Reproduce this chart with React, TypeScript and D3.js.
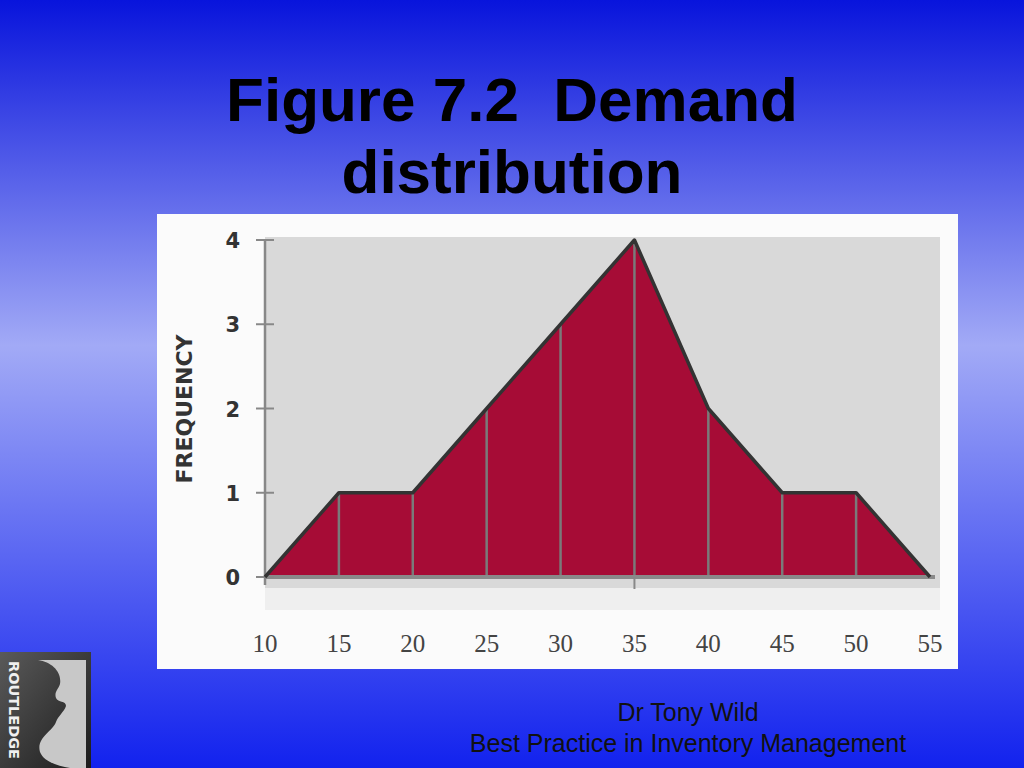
import React, { useRef, useEffect } from "react";
import { select, scaleLinear, area, line, curveLinear } from "d3";

const demandLevels = [10, 15, 20, 25, 30, 35, 40, 45, 50, 55];
const frequencies = [0, 1, 1, 2, 3, 4, 2, 1, 1, 0];
const yTicks = [0, 1, 2, 3, 4];

const W = 1024;
const H = 768;

const App: React.FC = () => {
  const svgRef = useRef<SVGSVGElement>(null);

  useEffect(() => {
    const svg = select(svgRef.current);
    svg.selectAll("*").remove();

    const x = scaleLinear().domain([10, 55]).range([265, 930]);
    const y = scaleLinear().domain([0, 4]).range([577, 240]);

    const defs = svg.append("defs");
    const bg = defs
      .append("linearGradient")
      .attr("id", "bg")
      .attr("x1", 0)
      .attr("y1", 0)
      .attr("x2", 0)
      .attr("y2", 1);
    bg.append("stop").attr("offset", "0%").attr("stop-color", "#0814dc");
    bg.append("stop").attr("offset", "45%").attr("stop-color", "#a2aaf6");
    bg.append("stop").attr("offset", "100%").attr("stop-color", "#1222ee");

    const logo = defs
      .append("linearGradient")
      .attr("id", "logo")
      .attr("x1", 0)
      .attr("y1", 0)
      .attr("x2", 1)
      .attr("y2", 1);
    logo.append("stop").attr("offset", "0%").attr("stop-color", "#5a5a5a");
    logo.append("stop").attr("offset", "100%").attr("stop-color", "#1c1c1c");

    svg.append("rect").attr("width", W).attr("height", H).attr("fill", "url(#bg)");

    // title
    const title = svg
      .append("text")
      .attr("text-anchor", "middle")
      .attr("font-family", "Liberation Sans, Arial, sans-serif")
      .attr("font-weight", "bold")
      .attr("font-size", 62)
      .attr("fill", "#000")
      .style("white-space", "pre");
    title.append("tspan").attr("x", 512).attr("y", 121).text("Figure 7.2\u00a0\u00a0Demand");
    title.append("tspan").attr("x", 512).attr("y", 193).text("distribution");

    // image panel
    svg.append("rect").attr("x", 157).attr("y", 214).attr("width", 801).attr("height", 455).attr("fill", "#fbfbfb");
    svg.append("rect").attr("x", 265).attr("y", 588).attr("width", 675).attr("height", 22).attr("fill", "#efefef");
    svg.append("rect").attr("x", 265).attr("y", 237).attr("width", 675).attr("height", 351).attr("fill", "#d9d9d9");

    const pts = demandLevels.map((d, i) => [d, frequencies[i]] as [number, number]);

    svg
      .append("path")
      .datum(pts)
      .attr(
        "d",
        area<[number, number]>()
          .x((d) => x(d[0]))
          .y0(y(0))
          .y1((d) => y(d[1]))
          .curve(curveLinear)
      )
      .attr("fill", "#a60c36");

    // interior vertical lines
    svg
      .selectAll("line.drop")
      .data(pts.slice(1, -1))
      .join("line")
      .attr("class", "drop")
      .attr("x1", (d) => x(d[0]))
      .attr("x2", (d) => x(d[0]))
      .attr("y1", y(0))
      .attr("y2", (d) => y(d[1]))
      .attr("stroke", "#7a7a7a")
      .attr("stroke-width", 2.5);

    // axes
    svg.append("line").attr("x1", x(10)).attr("x2", x(10)).attr("y1", y(4)).attr("y2", y(0) + 8).attr("stroke", "#888").attr("stroke-width", 2.5);
    svg.append("line").attr("x1", x(10)).attr("x2", x(55) + 5).attr("y1", y(0)).attr("y2", y(0)).attr("stroke", "#8a8a8a").attr("stroke-width", 4);
    svg.append("line").attr("x1", x(35)).attr("x2", x(35)).attr("y1", y(0)).attr("y2", y(0) + 12).attr("stroke", "#888").attr("stroke-width", 2);

    svg
      .selectAll("line.ytick")
      .data(yTicks)
      .join("line")
      .attr("class", "ytick")
      .attr("x1", x(10) - 9)
      .attr("x2", x(10) + 9)
      .attr("y1", (d) => y(d))
      .attr("y2", (d) => y(d))
      .attr("stroke", "#888")
      .attr("stroke-width", 2);

    svg
      .append("path")
      .datum(pts)
      .attr(
        "d",
        line<[number, number]>()
          .x((d) => x(d[0]))
          .y((d) => y(d[1]))
      )
      .attr("fill", "none")
      .attr("stroke", "#333")
      .attr("stroke-width", 3.5)
      .attr("stroke-linejoin", "round");

    svg
      .selectAll("text.ylab")
      .data(yTicks)
      .join("text")
      .attr("class", "ylab")
      .attr("x", 240)
      .attr("y", (d) => y(d) + 8)
      .attr("text-anchor", "end")
      .attr("font-family", "DejaVu Sans, sans-serif")
      .attr("font-weight", "bold")
      .attr("font-size", 21)
      .attr("fill", "#333")
      .text((d) => d);

    svg
      .selectAll("text.xlab")
      .data(demandLevels)
      .join("text")
      .attr("class", "xlab")
      .attr("x", (d) => x(d))
      .attr("y", 652)
      .attr("text-anchor", "middle")
      .attr("font-family", "Liberation Serif, serif")
      .attr("font-size", 25)
      .attr("fill", "#444")
      .text((d) => d);

    svg
      .append("text")
      .attr("transform", `translate(192,409) rotate(-90)`)
      .attr("text-anchor", "middle")
      .attr("font-family", "DejaVu Sans, sans-serif")
      .attr("font-weight", "bold")
      .attr("font-size", 22)
      .attr("fill", "#333")
      .text("FREQUENCY");

    // footer
    const foot = svg
      .append("g")
      .attr("font-family", "Liberation Sans, Arial, sans-serif")
      .attr("font-size", 25)
      .attr("fill", "#111")
      .attr("text-anchor", "middle");
    foot.append("text").attr("x", 688).attr("y", 721).text("Dr Tony Wild");
    foot.append("text").attr("x", 688).attr("y", 752).text("Best Practice in Inventory Management");

    // publisher logo
    svg.append("rect").attr("x", 0).attr("y", 652).attr("width", 91).attr("height", 116).attr("fill", "url(#logo)");
    svg
      .append("path")
      .attr(
        "d",
        "M38,660 C52,662 62,672 60,684 C58,690 54,692 56,698 C58,703 66,700 66,706 C64,712 58,716 56,722 C52,732 36,738 40,752 C44,762 58,766 70,768 L86,768 L86,660 Z"
      )
      .attr("fill", "#c8c8c8");
    svg
      .append("text")
      .attr("transform", `translate(9,661) rotate(90)`)
      .attr("font-family", "DejaVu Sans, sans-serif")
      .attr("font-weight", "bold")
      .attr("font-size", 14)
      .attr("fill", "#f0f0f0")
      .attr("textLength", 98)
      .attr("lengthAdjust", "spacingAndGlyphs")
      .text("ROUTLEDGE");
  }, []);

  return (
    <svg
      ref={svgRef}
      width={W}
      height={H}
      style={{ position: "fixed", top: 0, left: 0, display: "block" }}
    />
  );
};

export default App;
